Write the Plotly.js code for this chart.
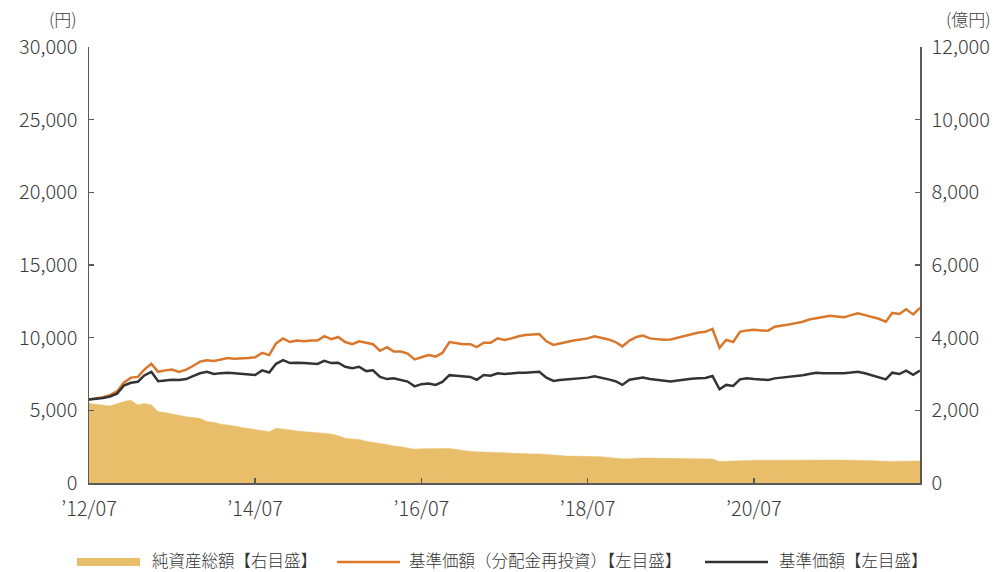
<!DOCTYPE html>
<html>
<head>
<meta charset="utf-8">
<script src="https://cdn.plot.ly/plotly-3.0.1.min.js"></script>
<style>
html,body{margin:0;padding:0;background:#fff;}
#chart{width:996px;height:572px;}
</style>
</head>
<body>
<div id="chart"></div>
<script>
// Monthly observation dates: 2012-07 .. 2022-07
const startYear = 2012, startMonth = 7, monthCount = 121;
const dates = [];
for (let i = 0; i < monthCount; i++) {
  const t = startMonth - 1 + i;
  const y = startYear + Math.floor(t / 12);
  const m = (t % 12) + 1;
  dates.push(y + '-' + String(m).padStart(2, '0') + '-01');
}

// 基準価額（分配金再投資）[円]
const navReinvested = [
  5750,5800,5900,6050,6300,6900,7250,7300,7800,8200,7650,7750,
  7800,7650,7800,8050,8350,8450,8400,8500,8600,8550,8600,8600,
  8650,8950,8800,9600,9950,9700,9800,9750,9800,9800,10100,9900,
  10050,9700,9550,9750,9650,9550,9100,9350,9050,9050,8900,8500,
  8650,8800,8700,8950,9700,9600,9550,9550,9350,9650,9650,9950,
  9850,9950,10100,10180,10200,10250,9750,9500,9600,9720,9800,9880,
  9950,10100,10000,9880,9700,9400,9800,10050,10150,9950,9900,9850,
  9880,10000,10150,10250,10350,10400,10600,9300,9850,9700,10400,10500,
  10550,10500,10480,10750,10800,10900,11000,11100,11250,11330,11450,11500,
  11450,11400,11550,11680,11550,11440,11300,11100,11700,11630,11950,11600,
  12050
];

// 基準価額 [円]
const nav = [
  5750,5780,5850,5950,6150,6700,6900,6970,7400,7650,7000,7050,
  7100,7080,7150,7350,7550,7650,7500,7560,7590,7550,7500,7450,
  7430,7750,7600,8200,8450,8250,8280,8250,8200,8190,8400,8250,
  8280,8000,7900,8000,7700,7750,7300,7150,7200,7100,6980,6650,
  6800,6850,6750,6950,7420,7380,7330,7300,7100,7430,7380,7550,
  7500,7550,7580,7590,7620,7660,7250,7020,7080,7130,7180,7200,
  7250,7350,7250,7130,7000,6750,7100,7200,7250,7150,7100,7050,
  6980,7050,7130,7180,7200,7220,7360,6450,6750,6680,7130,7200,
  7150,7120,7090,7200,7250,7300,7360,7420,7500,7590,7560,7550,
  7530,7550,7600,7660,7550,7430,7300,7130,7590,7500,7730,7450,
  7730
];

// 純資産総額 [億円]
const netAssets = [
  2190,2170,2150,2120,2180,2240,2280,2150,2190,2150,1960,1940,
  1900,1850,1820,1800,1780,1690,1670,1620,1600,1570,1530,1490,
  1470,1440,1410,1510,1490,1460,1430,1410,1390,1370,1360,1350,
  1300,1230,1210,1200,1150,1110,1090,1060,1020,1000,970,930,
  940,950,955,950,950,920,900,870,860,850,840,830,
  820,815,810,805,800,800,780,760,745,740,740,740,
  740,735,720,700,680,665,670,690,690,685,680,680,
  675,675,670,670,665,665,660,590,600,610,615,620,
  625,628,630,630,630,632,632,633,633,632,632,630,
  630,630,630,625,620,615,605,590,595,600,605,605,
  605
];

const xTickVals = ['2012-07-01','2014-07-01','2016-07-01','2018-07-01','2020-07-01'];
const xTickText = ['\u201912/07','\u201914/07','\u201916/07','\u201918/07','\u201920/07'];

const legendNames = ['純資産総額【右目盛】','基準価額（分配金再投資）【左目盛】','基準価額【左目盛】'];

const colGold = '#E8BE6B', colOrange = '#D9782C', colBlack = '#333333';
const FONT = '"Noto Sans CJK JP", "Noto Sans", sans-serif';
const axisCol = '#5a5a5a', textCol = '#3c3c3c';

const traces = [
  {x: dates, y: netAssets, type: 'scatter', mode: 'lines', fill: 'tozeroy',
   fillcolor: colGold, line: {color: colGold, width: 0.5}, yaxis: 'y',
   name: legendNames[0], showlegend: false, hoverinfo: 'skip'},
  {x: dates, y: navReinvested, type: 'scatter', mode: 'lines',
   line: {color: colOrange, width: 2.5}, yaxis: 'y2',
   name: legendNames[1], showlegend: false},
  {x: dates, y: nav, type: 'scatter', mode: 'lines',
   line: {color: colBlack, width: 2.5}, yaxis: 'y2',
   name: legendNames[2], showlegend: false}
];

// custom legend (paper coords)
const W = 831, H = 436;
const px = v => (v - 89) / W;
const py = v => (483 - v) / H;
const legY = 560;
const shapes = [
  {type:'line', xref:'paper', yref:'paper', x0:px(77), x1:px(140), y0:py(legY+2), y1:py(legY+2), line:{color:colGold, width:8}},
  {type:'line', xref:'paper', yref:'paper', x0:px(337), x1:px(400), y0:py(legY+2), y1:py(legY+2), line:{color:colOrange, width:2.5}},
  {type:'line', xref:'paper', yref:'paper', x0:px(705), x1:px(768), y0:py(legY+2), y1:py(legY+2), line:{color:colBlack, width:2.5}}
];
const legFont = {family:FONT, size:16.5, color:'#333', weight:300};
const annotations = [
  {xref:'paper', yref:'paper', x:px(150), y:py(legY), xanchor:'left', yanchor:'middle', showarrow:false,
   text: legendNames[0], font:legFont},
  {xref:'paper', yref:'paper', x:px(407), y:py(legY), xanchor:'left', yanchor:'middle', showarrow:false,
   text: legendNames[1], font:legFont},
  {xref:'paper', yref:'paper', x:px(777), y:py(legY), xanchor:'left', yanchor:'middle', showarrow:false,
   text: legendNames[2], font:legFont},
  {xref:'paper', yref:'paper', x:px(79), y:py(19), xanchor:'right', yanchor:'middle', showarrow:false,
   text:'(円)', font:{family:FONT, size:17, color:textCol, weight:300}},
  {xref:'paper', yref:'paper', x:px(993), y:py(19), xanchor:'right', yanchor:'middle', showarrow:false,
   text:'(億円)', font:{family:FONT, size:17, color:textCol, weight:300}}
];

const tickFont = {family: FONT, size: 20, color: textCol, weight: 300};

const layout = {
  width: 996, height: 572,
  margin: {l: 89, r: 76, t: 47, b: 89, pad: 0},
  paper_bgcolor: '#ffffff', plot_bgcolor: '#ffffff',
  font: {family: FONT, color: textCol, size: 20},
  showlegend: false,
  xaxis: {
    type: 'date', range: ['2012-07-01', '2022-07-01'],
    tickmode: 'array', tickvals: xTickVals, ticktext: xTickText,
    ticks: 'inside', ticklen: 5, tickwidth: 1.5, tickcolor: axisCol,
    showline: true, linecolor: axisCol, linewidth: 1.5, showgrid: false, zeroline: false,
    tickfont: tickFont, ticklabelstandoff: 7
  },
  yaxis: {
    side: 'right', range: [0, 12000], dtick: 2000, tickformat: ',d',
    ticks: 'inside', ticklen: 5, tickwidth: 1.5, tickcolor: axisCol,
    showline: true, linecolor: axisCol, linewidth: 1.5, showgrid: false, zeroline: false,
    tickfont: tickFont, ticklabelstandoff: 6
  },
  yaxis2: {
    overlaying: 'y', side: 'left', range: [0, 30000], dtick: 5000, tickformat: ',d',
    ticks: 'inside', ticklen: 5, tickwidth: 1.5, tickcolor: axisCol,
    showline: true, linecolor: axisCol, linewidth: 1.5, showgrid: false, zeroline: false,
    tickfont: tickFont, ticklabelstandoff: 6
  },
  shapes: shapes,
  annotations: annotations
};

Plotly.newPlot('chart', traces, layout, {displayModeBar: false, staticPlot: true});
</script>
</body>
</html>
